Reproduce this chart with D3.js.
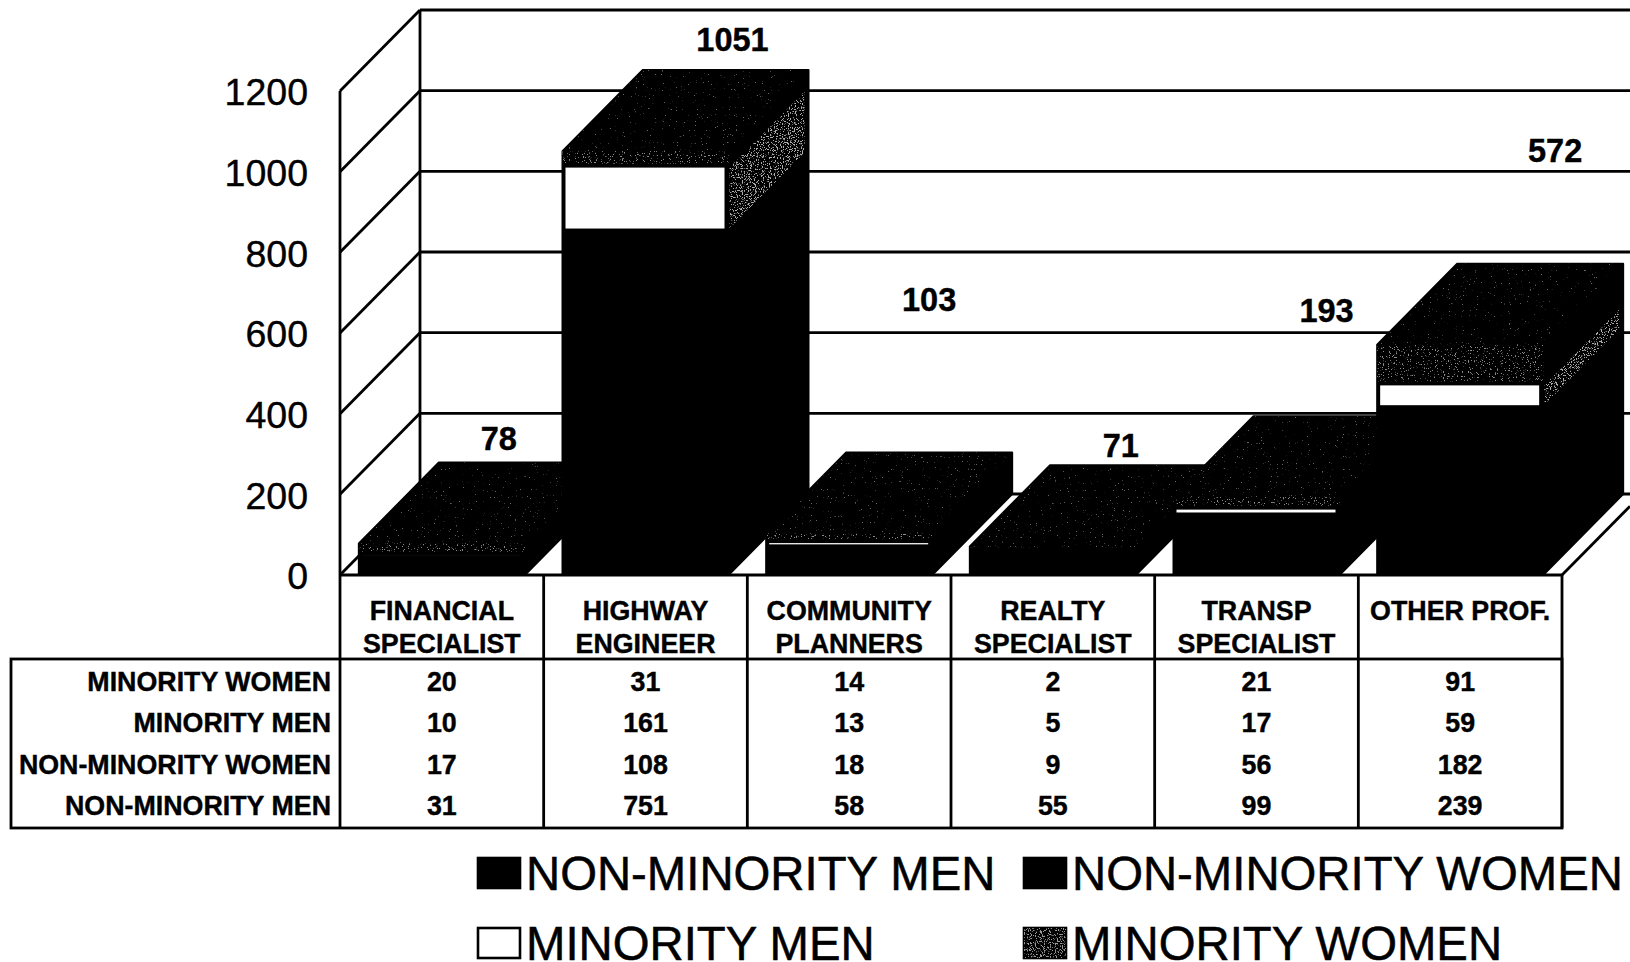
<!DOCTYPE html>
<html><head><meta charset="utf-8">
<script src="https://cdn.jsdelivr.net/npm/d3@7"></script>
<style>html,body{margin:0;padding:0;background:#fff}svg{display:block}text{font-family:"Liberation Sans",Arial,sans-serif;fill:#000}</style>
</head><body><svg id="c" width="1630" height="962"></svg>
<script>
const categories=[["FINANCIAL","SPECIALIST"],["HIGHWAY","ENGINEER"],["COMMUNITY","PLANNERS"],["REALTY","SPECIALIST"],["TRANSP","SPECIALIST"],["OTHER PROF."]];
const categoryKeys=categories.map(c=>c.join(" "));
const minorityWomen=[20,31,14,2,21,91];
const minorityMen=[10,161,13,5,17,59];
const nonMinorityWomen=[17,108,18,9,56,182];
const nonMinorityMen=[31,751,58,55,99,239];
const totals=[78,1051,103,71,193,572];
const tableRows=[["MINORITY WOMEN",minorityWomen],["MINORITY MEN",minorityMen],["NON-MINORITY WOMEN",nonMinorityWomen],["NON-MINORITY MEN",nonMinorityMen]];
const yTicks=[0,200,400,600,800,1000,1200];
// hand-placed total labels: x offset from the bar centre, height as axis value on the front plane
const totalDx=[57,87,80,68,70,95];
const totalAt=[338,1329,683,322,657,1053];

const svg=d3.select("#c");
const W=1630,depthX=80,depthY=81;
const x=d3.scaleBand().domain(categoryKeys).range([340,1562]);
const y=d3.scaleLinear().domain([0,1200]).range([575,91]);
const barW=166;
const left=i=>x(categoryKeys[i])+(x.bandwidth()-barW)/2;

const defs=svg.append("defs");
[["spTop",0.72,.4],["spFront",0.63,.55],["spSide",0.56,.68],["spLegend",0.55,.6]].forEach(([id,t,c])=>{
  const f=defs.append("filter").attr("id",id).attr("x",0).attr("y",0).attr("width",1).attr("height",1).attr("color-interpolation-filters","sRGB");
  f.append("feTurbulence").attr("type","fractalNoise").attr("baseFrequency",0.85).attr("numOctaves",2).attr("seed",4);
  f.append("feColorMatrix").attr("values",`0 0 0 0 ${c} 0 0 0 0 ${c} 0 0 0 0 ${c} 14 0 0 0 ${-14*t}`);
  f.append("feComposite").attr("operator","in").attr("in2","SourceAlpha");
});

// walls and grid
const grid=svg.append("g").attr("fill","none").attr("stroke","#000").attr("stroke-width",2.8);
yTicks.forEach(t=>{
  const v=y(t);
  grid.append("line").attr("x1",340).attr("y1",v).attr("x2",340+depthX).attr("y2",v-depthY);
  grid.append("line").attr("x1",340+depthX).attr("y1",v-depthY).attr("x2",W).attr("y2",v-depthY);
});
grid.append("line").attr("x1",340).attr("y1",y(0)).attr("x2",340).attr("y2",y(1200));
grid.append("line").attr("x1",420).attr("y1",y(0)-depthY).attr("x2",420).attr("y2",y(1200)-depthY);
// floor right edge
grid.append("line").attr("x1",1562).attr("y1",y(0)).attr("x2",W).attr("y2",y(0)-(W-1562)*depthY/depthX);

// axis
const ax=svg.append("g").attr("transform","translate(308,1)").call(d3.axisLeft(y).tickValues(yTicks).tickFormat(d3.format("d")).tickSize(0).tickPadding(0));
ax.select(".domain").remove();
ax.selectAll("text").style("font-size","37.5px").attr("fill","#000").attr("dy","0.34em").style("font-family",'"Liberation Sans",Arial,sans-serif').style("stroke","#000").style("stroke-width",0.4);

// bars
const rows=categoryKeys.map((k,i)=>({k,nmm:nonMinorityMen[i],nmw:nonMinorityWomen[i],mm:minorityMen[i],mw:minorityWomen[i]}));
const stack=d3.stack().keys(["nmm","nmw","mm","mw"])(rows);
const P=d3.line();
const bars=svg.append("g");
categoryKeys.forEach((k,i)=>{
  const g=bars.append("g"),l=left(i),r=l+barW;
  const [nmm,nmw,mm,mw]=stack.map(s=>s[i]);
  const topV=mw[1];
  // whole block silhouette
  g.append("path").attr("fill","#000").attr("stroke","#000").attr("stroke-width",2).attr("stroke-linejoin","round")
    .attr("d",P([[l,y(0)],[l,y(topV)],[l+depthX,y(topV)-depthY],[r+depthX,y(topV)-depthY],[r+depthX,y(0)-depthY],[r,y(0)]])+"Z");
  // top face speckle
  g.append("path").attr("fill","#000").attr("filter","url(#spTop)")
    .attr("d",P([[l,y(topV)],[l+depthX,y(topV)-depthY],[r+depthX,y(topV)-depthY],[r,y(topV)]])+"Z");
  // minority women front speckle
  g.append("rect").attr("x",l).attr("y",y(mw[1])).attr("width",barW).attr("height",y(mw[0])-y(mw[1])).attr("fill","#000").attr("filter","url(#spFront)");
  // minority men: outline eats into the top of the white band
  const hw=y(mm[0])-y(mm[1])-4;
  if(hw>0){
    if(hw>8) g.append("path").attr("fill","#000").attr("filter","url(#spSide)")
      .attr("d",P([[r+1,y(mm[1])+4],[r+depthX-4,y(mm[1])-depthY+9],[r+depthX-4,y(mm[0])-depthY+5],[r+1,y(mm[0])]])+"Z");
    g.append("rect").attr("x",l+3).attr("y",y(mm[1])+4).attr("width",barW-7).attr("height",hw).attr("fill","#fff");
  }
});

// table
const t=svg.append("g").attr("fill","none").attr("stroke","#000").attr("stroke-width",2.8);
const tTop=659,tBot=828,tLeft=11;
t.append("rect").attr("x",tLeft).attr("y",tTop).attr("width",1562-tLeft).attr("height",tBot-tTop);
t.append("line").attr("x1",340).attr("y1",y(0)).attr("x2",1562).attr("y2",y(0));
x.domain().forEach(k=>t.append("line").attr("x1",x(k)).attr("y1",y(0)).attr("x2",x(k)).attr("y2",tBot));
t.append("line").attr("x1",1562).attr("y1",y(0)).attr("x2",1562).attr("y2",tBot);

const lab=svg.append("g").style("font-weight","bold").style("font-size","26.8px").style("stroke","#000").style("stroke-width",0.4).attr("text-anchor","middle");
categories.forEach((c,i)=>c.forEach((s,j)=>lab.append("text").attr("x",x(categoryKeys[i])+x.bandwidth()/2).attr("y",620+j*33).text(s)));
const rowY=d3.scalePoint().domain(tableRows.map(r=>r[0])).range([691,815]);
tableRows.forEach(([name,vals])=>{
  lab.append("text").attr("x",331).attr("y",rowY(name)).attr("text-anchor","end").text(name);
  vals.forEach((v,i)=>lab.append("text").attr("x",x(categoryKeys[i])+x.bandwidth()/2).attr("y",rowY(name)).text(v));
});

// totals
const tot=svg.append("g").style("font-weight","bold").style("font-size","32.5px").style("stroke","#000").style("stroke-width",0.4).attr("text-anchor","middle");
totals.forEach((v,i)=>tot.append("text").attr("x",left(i)+barW/2+totalDx[i]).attr("y",y(totalAt[i])).attr("dy","0.36em").text(v));

// legend
const legendItems=[["NON-MINORITY MEN",478,873,"#000",null],["NON-MINORITY WOMEN",1024,873,"#000",null],["MINORITY MEN",478,943,"#fff",null],["MINORITY WOMEN",1024,943,"#000","spLegend"]];
const leg=svg.append("g");
legendItems.forEach(([s,lx,ly,fill,sp])=>{
  leg.append("rect").attr("x",lx).attr("y",ly-15).attr("width",42).attr("height",30).attr("fill",fill).attr("stroke","#000").attr("stroke-width",2.6);
  if(sp) leg.append("rect").attr("x",lx).attr("y",ly-15).attr("width",42).attr("height",30).attr("fill","#000").attr("filter",`url(#${sp})`);
  leg.append("text").attr("x",lx+48).attr("y",ly).attr("dy","0.36em").style("font-size","47.3px").style("stroke","#000").style("stroke-width",0.5).text(s);
});
</script></body></html>
